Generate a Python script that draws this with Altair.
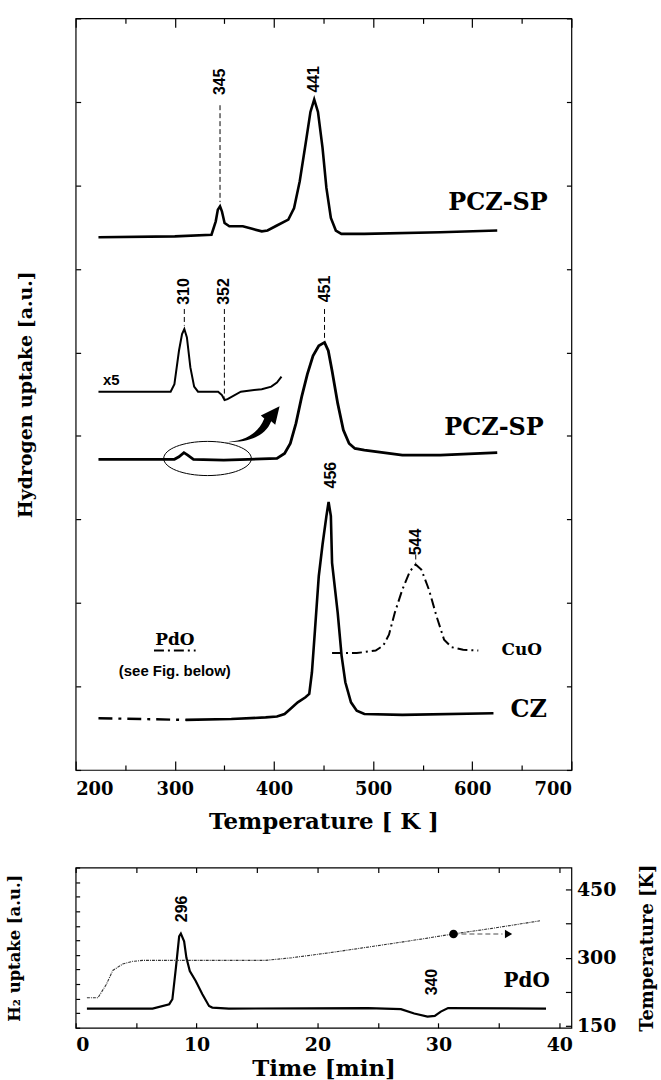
import altair as alt
import pandas as pd

SERIF = "DejaVu Serif"
SANS = "Liberation Sans"
W = 498
H_TOP = 755
H_BOT = 161

# ---------------- top panel: TPR profiles (T in K, y in arbitrary units) ----------------
pcz_top_T = [223, 300, 337, 341.3, 343.4, 345.6, 347.5, 350.2, 355, 368.6, 378, 387.7, 393.5,
             403, 414.5, 420.3, 426, 431.8, 436.8, 440.6, 444.4, 449, 452.9, 457.4, 462.4,
             468, 491, 567.8, 625.2]
pcz_top_y = [6.38, 6.39, 6.41, 6.57, 6.71, 6.75, 6.69, 6.55, 6.51, 6.51, 6.48, 6.45, 6.46,
             6.52, 6.59, 6.73, 7.05, 7.49, 7.88, 8.03, 7.88, 7.45, 6.97, 6.61, 6.46,
             6.42, 6.42, 6.44, 6.46]

x5_T = [223, 295.8, 299.6, 304.2, 307.3, 309.6, 312.2, 315.7, 319.5, 323.4, 343.7, 347.5,
        350.2, 353.2, 366.6, 387.7, 397.3, 403, 407.6]
x5_y = [4.53, 4.53, 4.62, 5.02, 5.22, 5.28, 5.18, 4.82, 4.59, 4.53, 4.53, 4.49,
        4.43, 4.44, 4.53, 4.56, 4.59, 4.64, 4.71]

pcz_mid_T = [223, 299.6, 304.2, 309.2, 313, 318.8, 349.4, 403, 410.7, 416.5, 422.2, 428,
             433.7, 439.4, 445.2, 451, 454.8, 458.6, 464.3, 470, 475.8, 481.6, 491.2,
             529.5, 567.8, 625.2]
pcz_mid_y = [3.72, 3.72, 3.75, 3.80, 3.77, 3.72, 3.71, 3.73, 3.79, 3.91, 4.15, 4.47,
             4.74, 4.96, 5.08, 5.12, 5.02, 4.78, 4.39, 4.07, 3.91, 3.85, 3.83,
             3.77, 3.77, 3.80]

cz_dash_T = [223, 311]
cz_dash_y = [0.62, 0.60]
cz_T = [311, 357, 391.6, 403, 410.7, 416.5, 424, 431.8, 435.6, 438.3, 441.4, 445.2, 449,
        452.9, 455.1, 457.4, 458.6, 464.3, 468.2, 472, 477.7, 483.5, 491.2, 529.5, 621.4]
cz_y = [0.60, 0.61, 0.63, 0.64, 0.67, 0.73, 0.81, 0.87, 0.91, 1.17, 1.68, 2.32, 2.70,
        3.04, 3.21, 3.04, 2.48, 1.88, 1.37, 1.05, 0.81, 0.71, 0.67, 0.66, 0.68]

cuo_T = [458.6, 483.5, 502.6, 510.3, 516, 521.8, 529.5, 537.2, 542.9, 548.6, 556.3, 564,
         571.6, 579.3, 590.8, 606.1]
cuo_y = [1.40, 1.40, 1.43, 1.49, 1.62, 1.88, 2.16, 2.38, 2.46, 2.40, 2.16, 1.84,
         1.56, 1.47, 1.44, 1.43]

pdo_key_T = [279, 321]
pdo_key_y = [1.43, 1.43]

leader_T = [345.6, 309.6, 350, 451, 543]
leader_top = [7.96, 5.52, 5.52, 5.52, 2.58]
leader_bot = [6.80, 5.32, 4.46, 5.16, 2.48]

peak_T = [345.6, 440, 309.6, 350, 451, 458, 543]
peak_y = [8.24, 8.27, 5.73, 5.73, 5.76, 3.53, 2.73]
peak_txt = ["345", "441", "310", "352", "451", "456", "544"]

big_T = [626, 622, 657]
big_y = [6.79, 4.09, 0.72]
big_txt = ["PCZ-SP", "PCZ-SP", "CZ"]

small_T = [650, 300]
small_y = [1.44, 1.56]
small_txt = ["CuO", "PdO"]

sans_T = [236, 300]
sans_y = [4.67, 1.19]
sans_txt = ["x5", "(see Fig. below)"]

ellipse_T = [333]
ellipse_y = [3.73]
arrow_T = [378]
arrow_y = [4.14]

# ---------------- bottom panel: PdO reference ----------------
h2_t = [0.93, 6.36, 7.74, 8.0, 8.29, 8.56, 8.7, 8.97, 9.16, 9.44, 9.93, 10.48, 11.03,
        11.3, 12.67, 24.2, 26.9, 28.0, 29.1, 29.7, 30.2, 30.8, 38.9]
h2_v = [1.32, 1.32, 1.62, 1.96, 4.12, 6.28, 6.47, 5.94, 4.80, 3.89, 3.21, 2.30, 1.50,
        1.39, 1.32, 1.35, 1.28, 0.98, 0.77, 0.82, 1.11, 1.35, 1.32]

temp_t = [0.93, 1.84, 2.53, 3.07, 3.89, 4.72, 5.54, 15.7, 17.9, 20.9, 23.6, 26.4, 29.1,
          31.2, 34.6, 38.4]
temp_K = [212, 212, 241, 272, 286, 292, 294, 294, 300, 310.5, 321, 332, 343,
          352, 365, 381]

bpeak_t = [8.83, 29.5]
bpeak_v = [8.16, 3.14]
bpeak_txt = ["296", "340"]

pdo_t = [37.3]
pdo_v = [3.2]

dot_t = [31.25]
dot_K = [352]
arrow_line_t = [31.25, 35.3]
arrow_line_K = [352, 352]
arrow_head_t = [35.8]
arrow_head_K = [352]

# ---------------- helpers ----------------
ELLIPSE = "M -1 0 A 1 0.39 0 1 0 1 0 A 1 0.39 0 1 0 -1 0"
CURVED_ARROW = ("M -1 0.62 C -0.3 0.6 0.2 0.35 0.42 -0.2 L 0.3 -0.3 L 0.95 -0.62 "
                "L 0.8 0.02 L 0.66 -0.1 C 0.45 0.45 -0.2 0.66 -1 0.62 Z")

xs_top = alt.Scale(domain=[200, 700], nice=False, zero=False)
ys_top = alt.Scale(domain=[0, 9], nice=False, zero=False)
xs_bot = alt.Scale(domain=[0, 41], nice=False, zero=False)
yl_bot = alt.Scale(domain=[0, 11], nice=False, zero=False)
yr_bot = alt.Scale(domain=[146, 498], nice=False, zero=False)


def df(**cols):
    return pd.DataFrame(cols)


def tx(xscale, field="x"):
    return alt.X(f"{field}:Q", scale=xscale, axis=None)


def ty(yscale, field="y"):
    return alt.Y(f"{field}:Q", scale=yscale, axis=None)


def curve(xv, yv, xscale, yscale, **mk):
    return alt.Chart(df(x=xv, y=yv)).mark_line(**mk).encode(x=tx(xscale), y=ty(yscale))


def tick_axis(orient, offset, values, size):
    return alt.Axis(orient=orient, offset=offset, values=values, labels=False, domain=False,
                    grid=False, title=None, tickWidth=1.2, tickSize=size)


MAJOR_TICK = {"condition": {"test": "datum.value % 100 === 0", "value": 9}, "value": 5}

# ---------------- top chart ----------------
top_x_axis = alt.Axis(values=[200, 300, 400, 500, 600, 700], ticks=False, domain=False, grid=False,
                      labelFont=SERIF, labelFontSize=18, labelFontWeight="bold", labelPadding=11,
                      title="Temperature [ K ]", titleFont=SERIF, titleFontSize=23,
                      titleFontWeight="bold", titlePadding=12)
top_y_axis = alt.Axis(labels=False, ticks=False, domain=False, grid=False,
                      title="Hydrogen uptake [a.u.]", titleFont=SERIF, titleFontSize=19,
                      titleFontWeight="bold", titleAngle=270, titleX=-50, titleY=H_TOP / 2,
                      titleAlign="center", titleBaseline="middle")

pcz_top = alt.Chart(df(x=pcz_top_T, y=pcz_top_y)).mark_line(color="black", strokeWidth=2.6).encode(
    x=alt.X("x:Q", scale=xs_top, axis=top_x_axis),
    y=alt.Y("y:Q", scale=ys_top, axis=top_y_axis))
x5 = curve(x5_T, x5_y, xs_top, ys_top, color="black", strokeWidth=2.0)
pcz_mid = curve(pcz_mid_T, pcz_mid_y, xs_top, ys_top, color="black", strokeWidth=2.8)
cz_dash = curve(cz_dash_T, cz_dash_y, xs_top, ys_top, color="black", strokeWidth=2.4,
                strokeDash=[14, 6, 3, 6])
cz = curve(cz_T, cz_y, xs_top, ys_top, color="black", strokeWidth=2.6)
cuo = curve(cuo_T, cuo_y, xs_top, ys_top, color="black", strokeWidth=2.0, strokeDash=[10, 4, 2, 4])
pdo_key = curve(pdo_key_T, pdo_key_y, xs_top, ys_top, color="black", strokeWidth=2.0,
                strokeDash=[10, 4, 2, 4])

leaders = alt.Chart(df(x=leader_T, y=leader_top, y2=leader_bot)).mark_rule(
    color="black", strokeWidth=1, strokeDash=[5, 3]).encode(
    x=tx(xs_top), y=ty(ys_top), y2="y2:Q")

peaks = alt.Chart(df(x=peak_T, y=peak_y, t=peak_txt)).mark_text(
    font=SANS, fontWeight="bold", fontSize=16, angle=270, align="center", baseline="middle",
    color="black").encode(x=tx(xs_top), y=ty(ys_top), text="t:N")

big = alt.Chart(df(x=big_T, y=big_y, t=big_txt)).mark_text(
    font=SERIF, fontWeight="bold", fontSize=24, align="center", baseline="middle",
    color="black").encode(x=tx(xs_top), y=ty(ys_top), text="t:N")

small = alt.Chart(df(x=small_T, y=small_y, t=small_txt)).mark_text(
    font=SERIF, fontWeight="bold", fontSize=17, align="center", baseline="middle",
    color="black").encode(x=tx(xs_top), y=ty(ys_top), text="t:N")

sans = alt.Chart(df(x=sans_T, y=sans_y, t=sans_txt)).mark_text(
    font=SANS, fontWeight="bold", fontSize=15, align="center", baseline="middle",
    color="black").encode(x=tx(xs_top), y=ty(ys_top), text="t:N")

ellipse = alt.Chart(df(x=ellipse_T, y=ellipse_y)).mark_point(
    shape=ELLIPSE, size=7744, filled=False, color="black", strokeWidth=1, opacity=1).encode(
    x=tx(xs_top), y=ty(ys_top))

arrow = alt.Chart(df(x=arrow_T, y=arrow_y)).mark_point(
    shape=CURVED_ARROW, size=3364, filled=True, color="black", opacity=1).encode(
    x=tx(xs_top), y=ty(ys_top))

frame_top = df(x=[200, 700], y=[0, 9])
top_ticks_a = alt.Chart(frame_top).mark_point(opacity=0).encode(
    x=alt.X("x:Q", scale=xs_top, axis=tick_axis("top", -H_TOP, list(range(200, 701, 50)), MAJOR_TICK)),
    y=alt.Y("y:Q", scale=ys_top, axis=tick_axis("right", -W, list(range(0, 10)), 5)))
top_ticks_b = alt.Chart(frame_top).mark_point(opacity=0).encode(
    x=alt.X("x:Q", scale=xs_top, axis=tick_axis("bottom", -H_TOP, list(range(200, 701, 50)), MAJOR_TICK)),
    y=alt.Y("y:Q", scale=ys_top, axis=tick_axis("left", -W, list(range(0, 10)), 5)))

top = alt.layer(pcz_top, x5, pcz_mid, cz_dash, cz, cuo, pdo_key, leaders, peaks,
                big, small, sans, ellipse, arrow, top_ticks_a, top_ticks_b).resolve_scale(
    x="independent", y="independent").properties(width=W, height=H_TOP)

# ---------------- bottom chart ----------------
bot_x_axis = alt.Axis(values=[0, 10, 20, 30, 40], ticks=False, domain=False, grid=False,
                      labelFont=SERIF, labelFontSize=19, labelFontWeight="bold", labelPadding=8,
                      title="Time [min]", titleFont=SERIF, titleFontSize=23,
                      titleFontWeight="bold", titlePadding=3)
bot_yl_axis = alt.Axis(orient="left", labels=False, ticks=False, domain=False, grid=False,
                       title="H₂ uptake [a.u.]", titleFont=SERIF, titleFontSize=16.5,
                       titleFontWeight="bold", titleAngle=270, titleX=-61, titleY=H_BOT / 2,
                       titleAlign="center", titleBaseline="middle")
bot_yr_axis = alt.Axis(orient="right", values=[150, 300, 450], ticks=False, domain=False,
                       grid=False, labelFont=SERIF, labelFontSize=19, labelFontWeight="bold",
                       labelPadding=5, title="Temperature [K]", titleFont=SERIF,
                       titleFontSize=18, titleFontWeight="bold", titleAngle=270, titleX=76,
                       titleY=H_BOT / 2, titleAlign="center", titleBaseline="middle")

h2 = alt.Chart(df(x=h2_t, y=h2_v)).mark_line(color="black", strokeWidth=2.2).encode(
    x=alt.X("x:Q", scale=xs_bot, axis=bot_x_axis),
    y=alt.Y("y:Q", scale=yl_bot, axis=bot_yl_axis))
bpeaks = alt.Chart(df(x=bpeak_t, y=bpeak_v, t=bpeak_txt)).mark_text(
    font=SANS, fontWeight="bold", fontSize=16, angle=270, align="center", baseline="middle",
    color="black").encode(x=tx(xs_bot), y=ty(yl_bot), text="t:N")
pdo_b = alt.Chart(df(x=pdo_t, y=pdo_v, t=["PdO"])).mark_text(
    font=SERIF, fontWeight="bold", fontSize=20, align="center", baseline="middle",
    color="black").encode(x=tx(xs_bot), y=ty(yl_bot), text="t:N")

temp = alt.Chart(df(x=temp_t, y=temp_K)).mark_line(
    color="#333333", strokeWidth=1.1, strokeDash=[3, 1, 1, 1]).encode(
    x=alt.X("x:Q", scale=xs_bot, axis=None),
    y=alt.Y("y:Q", scale=yr_bot, axis=bot_yr_axis))
arrow_line = curve(arrow_line_t, arrow_line_K, xs_bot, yr_bot, color="#888888",
                   strokeWidth=1.5, strokeDash=[5, 3])
arrow_head = alt.Chart(df(x=arrow_head_t, y=arrow_head_K)).mark_point(
    shape="triangle-right", size=70, filled=True, color="black", opacity=1).encode(
    x=tx(xs_bot), y=ty(yr_bot))
dot = alt.Chart(df(x=dot_t, y=dot_K)).mark_point(
    shape="circle", size=75, filled=True, color="black", opacity=1).encode(
    x=tx(xs_bot), y=ty(yr_bot))

frame_bot = df(x=[0, 41], y=[0, 11], k=[146, 498])
bot_ticks_a = alt.Chart(frame_bot).mark_point(opacity=0).encode(
    x=alt.X("x:Q", scale=xs_bot, axis=tick_axis("top", -H_BOT, list(range(0, 41, 5)), 5)),
    y=alt.Y("y:Q", scale=yl_bot, axis=tick_axis("right", -W, list(range(0, 12)), 4)))
bot_ticks_b = alt.Chart(frame_bot).mark_point(opacity=0).encode(
    x=alt.X("x:Q", scale=xs_bot, axis=tick_axis("bottom", -H_BOT, list(range(0, 41, 5)), 5)),
    y=alt.Y("k:Q", scale=yr_bot, axis=tick_axis("left", -W, [150, 225, 300, 375, 450], 6)))

bottom = alt.layer(h2, bpeaks, pdo_b, temp, arrow_line, arrow_head, dot,
                   bot_ticks_a, bot_ticks_b).resolve_scale(
    x="independent", y="independent").properties(width=W, height=H_BOT)

chart = alt.vconcat(top, bottom, spacing=98, bounds="flush").properties(
    padding={"left": 6, "top": 12, "right": 4, "bottom": 4},
    background="white",
).configure_view(stroke="black", strokeWidth=1.2).configure_axis(
    labelColor="black", titleColor="black", tickColor="black")

chart.save("out.html", embed_options={"renderer": "svg", "actions": False})
